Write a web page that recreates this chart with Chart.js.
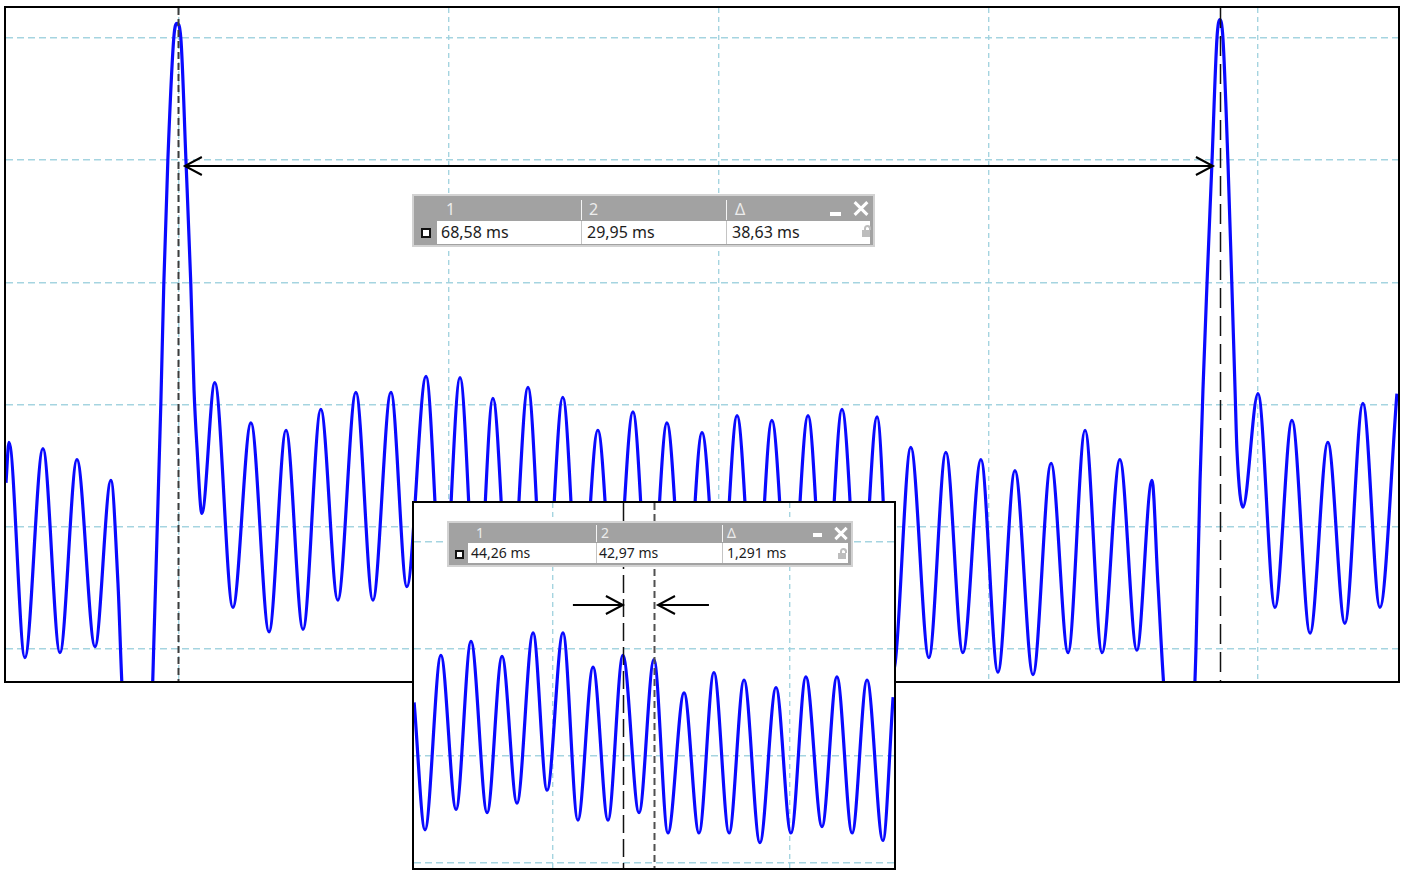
<!DOCTYPE html>
<html>
<head>
<meta charset="utf-8">
<script src="https://cdn.jsdelivr.net/npm/chart.js@4"></script>
<style>
body { margin:0; background:#fff; width:1406px; height:871px; position:relative; overflow:hidden; font-family:"Noto Sans", "Open Sans", sans-serif; }
.frame { position:absolute; border:2px solid #000; background:#fff; }
.frame canvas { display:block; }
.box { position:absolute; background:#a2a2a2; border:2px solid #d2d2d2; box-sizing:border-box; }
.box div { position:absolute; }
.hd { color:#ececec; white-space:nowrap; }
.row { background:#fff; }
.val { color:#1c1c1c; white-space:nowrap; }
.sepW { background:#f4f4f4; width:1px; }
.sepG { background:#c4c4c4; width:1px; }
.chk { background:#fff; border:2px solid #111; box-sizing:border-box; }
.min { background:#fff; }
.xb span { position:absolute; background:#fff; left:50%; top:50%; }
.lockBody { background:#bdbdbd; }
.lockArc { border:2px solid #bdbdbd; border-bottom:none; border-radius:4px 4px 0 0; box-sizing:border-box; }
</style>
</head>
<body>

<div class="frame" style="left:4px; top:6px; width:1392px; height:673px;">
  <canvas id="mainChart" width="1392" height="673"></canvas>
</div>

<div class="box" id="mainBox" style="left:412px; top:194px; width:463px; height:53px;"></div>

<div class="frame" style="left:412px; top:501px; width:480px; height:365px;">
  <canvas id="zoomChart" width="480" height="365"></canvas>
</div>

<div class="box" id="zoomBox" style="left:447px; top:521px; width:406px; height:46px;"></div>

<script>
// main capture: time in ms, level in grid divisions
var mainTimeMs = [23.59, 23.70, 24.29, 24.96, 25.59, 26.22, 26.89, 27.48, 27.74, 27.92,
  28.44, 29.00, 29.07, 29.18, 29.33, 29.44, 29.59, 29.81, 29.93, 30.07,
  30.26, 30.44, 30.56, 30.67, 30.85, 31.33, 32.00, 32.67, 33.34, 33.97,
  34.60, 35.26, 35.89, 36.56, 37.19, 37.86, 38.45, 39.16, 39.79, 40.42,
  41.05, 41.64, 42.27, 42.94, 43.57, 44.23, 44.87, 45.53, 46.16, 46.83,
  47.46, 48.09, 48.76, 49.39, 50.05, 50.69, 51.35, 51.98, 52.65, 53.32,
  53.95, 54.58, 55.24, 55.88, 56.47, 57.13, 57.80, 58.43, 59.06, 59.73,
  60.36, 60.99, 61.66, 62.33, 62.96, 63.59, 64.22, 64.88, 65.51, 66.07,
  66.29, 66.55, 67.11, 67.63, 67.70, 67.85, 67.96, 68.11, 68.29, 68.48,
  68.59, 68.70, 68.89, 69.03, 69.15, 69.22, 69.44, 70.00, 70.63, 71.26,
  71.93, 72.59, 73.22, 73.89, 74.52, 75.15];
var mainLevel = [1.36, 1.69, -0.07, 1.64, -0.03, 1.55, 0.02, 1.38, 0.54, -0.42,
  -0.91, -0.42, 0.05, 0.87, 2.01, 2.99, 4.00, 5.00, 5.12, 5.00,
  4.00, 2.99, 2.12, 1.65, 1.11, 2.18, 0.34, 1.85, 0.14, 1.79,
  0.16, 1.96, 0.40, 2.10, 0.40, 2.10, 0.51, 2.23, 0.32, 2.22,
  0.24, 2.05, 0.28, 2.14, 0.24, 2.06, 0.20, 1.79, 0.28, 1.94,
  0.24, 1.85, 0.20, 1.77, 0.24, 1.91, 0.20, 1.87, 0.20, 1.91,
  0.24, 1.96, 0.20, 1.90, -0.19, 1.65, -0.07, 1.61, -0.03, 1.55,
  -0.19, 1.46, -0.21, 1.52, -0.03, 1.79, -0.03, 1.55, -0.01, 1.38,
  0.54, -0.42, -0.91, -0.42, -0.01, 1.36, 2.12, 2.99, 3.96, 5.00,
  5.15, 5.00, 3.96, 2.99, 2.12, 1.63, 1.16, 2.09, 0.34, 1.87,
  0.13, 1.69, 0.21, 2.01, 0.34, 2.09];

// zoomed capture
var zoomTimeMs = [34.14, 34.60, 35.27, 35.91, 36.54, 37.22, 37.85, 38.48, 39.16, 39.75,
  40.42, 41.05, 41.69, 42.32, 42.95, 43.63, 44.26, 44.85, 45.53, 46.16,
  46.79, 47.43, 48.06, 48.73, 49.41, 50.04, 50.67, 51.35, 51.98, 52.62,
  53.25, 53.92, 54.35];
var zoomLevel = [1.50, 0.31, 1.94, 0.50, 2.07, 0.47, 1.93, 0.56, 2.15, 0.68,
  2.15, 0.40, 1.83, 0.40, 1.94, 0.47, 1.90, 0.28, 1.59, 0.28,
  1.78, 0.28, 1.71, 0.19, 1.64, 0.28, 1.74, 0.34, 1.74, 0.28,
  1.71, 0.21, 1.55];

var mainXTicks = [30, 40, 50, 60, 70];
var mainYTicks = [0, 1, 2, 3, 4, 5];
var zoomXTicks = [40, 50];
var zoomYTicks = [0, 1, 2, 3];

// cursors (ms) and readouts
var mainCursors = [68.58, 29.95];
var mainReadout = ['68,58 ms', '29,95 ms', '38,63 ms'];
var zoomCursors = [44.26, 42.97];
var zoomReadout = ['44,26 ms', '42,97 ms', '1,291 ms'];
var headLabels = ['1', '2', '\u0394'];

var overlay = {
  id: 'overlay',
  afterDatasetsDraw: function (chart, args, opts) {
    var ctx = chart.ctx, area = chart.chartArea;
    var x = chart.scales.x, y = chart.scales.y;
    ctx.save();
    (opts.cursors || []).forEach(function (c) {
      var px = Math.round(x.getPixelForValue(c.at)) + 0.5;
      ctx.beginPath();
      ctx.setLineDash(c.dash);
      ctx.strokeStyle = c.color;
      ctx.lineWidth = c.width;
      ctx.moveTo(px, area.top);
      ctx.lineTo(px, area.bottom);
      ctx.stroke();
    });
    ctx.setLineDash([]);
    ctx.strokeStyle = '#000';
    ctx.lineWidth = 2;
    (opts.arrows || []).forEach(function (a) {
      var x1 = x.getPixelForValue(a.from), x2 = x.getPixelForValue(a.to);
      var py = Math.round(y.getPixelForValue(a.y));
      ctx.beginPath();
      ctx.moveTo(x1, py);
      ctx.lineTo(x2, py);
      var d = x2 > x1 ? 1 : -1;
      ctx.moveTo(x2 - d * 17, py - 9);
      ctx.lineTo(x2, py);
      ctx.lineTo(x2 - d * 17, py + 9);
      if (a.both) {
        ctx.moveTo(x1 + d * 17, py - 9);
        ctx.lineTo(x1, py);
        ctx.lineTo(x1 + d * 17, py + 9);
      }
      ctx.stroke();
    });
    ctx.restore();
  }
};

function axis(min, max, ticks, dash) {
  return {
    type: 'linear', min: min, max: max,
    afterBuildTicks: function (s) { s.ticks = ticks.map(function (v) { return { value: v }; }); },
    ticks: { display: false },
    grid: { color: 'rgba(160,210,222,0.95)', lineWidth: 1.4, drawTicks: false },
    border: { display: false, dash: dash }
  };
}

function scope(id, times, levels, xr, yr, xt, yt, plugOpts) {
  var pts = times.map(function (t, i) { return { x: t, y: levels[i] }; });
  return new Chart(document.getElementById(id), {
    type: 'line',
    data: { datasets: [{
      data: pts,
      borderColor: '#0a0aff',
      borderWidth: 3.2,
      pointRadius: 0,
      cubicInterpolationMode: 'monotone',
      borderJoinStyle: 'round'
    }] },
    options: {
      responsive: false,
      animation: false,
      devicePixelRatio: 1,
      layout: { padding: 0 },
      plugins: { legend: { display: false }, tooltip: { enabled: false }, overlay: plugOpts },
      scales: { x: axis(xr[0], xr[1], xt, [5, 4]), y: axis(yr[0], yr[1], yt, [7, 4]) }
    },
    plugins: [overlay]
  });
}

scope('mainChart', mainTimeMs, mainLevel, [23.59, 75.19], [-0.262, 5.245], mainXTicks, mainYTicks, {
  cursors: [
    { at: mainCursors[0], color: '#111', dash: [20, 8], width: 1.5 },
    { at: mainCursors[1], color: '#3c3c3c', dash: [7, 4], width: 2 }
  ],
  arrows: [{ from: 30.22, to: 68.33, y: 3.95, both: true }]
});

scope('zoomChart', zoomTimeMs, zoomLevel, [34.135, 54.388], [-0.047, 3.364], zoomXTicks, zoomYTicks, {
  cursors: [
    { at: zoomCursors[1], color: '#111', dash: [18, 6], width: 1.5 },
    { at: zoomCursors[0], color: '#505050', dash: [7, 4], width: 2 }
  ],
  arrows: [
    { from: 40.84, to: 42.95, y: 2.41 },
    { from: 46.58, to: 44.43, y: 2.41 }
  ]
});

// readout boxes
function el(parent, cls, css, text) {
  var d = document.createElement('div');
  d.className = cls;
  d.style.cssText = css;
  if (text) d.textContent = text;
  parent.appendChild(d);
  return d;
}

function readoutBox(id, g, values) {
  var b = document.getElementById(id);
  headLabels.forEach(function (t, i) {
    el(b, 'hd', 'left:' + g.hx[i] + 'px; top:' + g.hy + 'px; font-size:' + g.fs + 'px; line-height:1;', t);
  });
  g.sep.forEach(function (s) {
    el(b, 'sepW', 'left:' + s + 'px; top:' + g.sepTop + 'px; height:' + g.sepH + 'px;');
  });
  var row = el(b, 'row', 'left:' + g.row[0] + 'px; top:' + g.row[1] + 'px; width:' + g.row[2] + 'px; height:' + g.row[3] + 'px;');
  g.sep.forEach(function (s) {
    el(row, 'sepG', 'left:' + (s - g.row[0]) + 'px; top:0; height:' + g.row[3] + 'px;');
  });
  values.forEach(function (t, i) {
    el(row, 'val', 'left:' + g.vx[i] + 'px; top:0; font-size:' + g.fs + 'px; line-height:' + g.row[3] + 'px;', t);
  });
  el(b, 'chk', 'left:' + g.chk[0] + 'px; top:' + g.chk[1] + 'px; width:' + g.chk[2] + 'px; height:' + g.chk[2] + 'px;');
  el(b, 'min', 'left:' + g.min[0] + 'px; top:' + g.min[1] + 'px; width:' + g.min[2] + 'px; height:' + g.min[3] + 'px;');
  var xb = el(b, 'xb', 'left:' + g.x[0] + 'px; top:' + g.x[1] + 'px; width:' + g.x[2] + 'px; height:' + g.x[2] + 'px;');
  [45, -45].forEach(function (r) {
    var s = document.createElement('span');
    var len = Math.round(g.x[2] * 1.3);
    s.style.cssText = 'width:' + len + 'px; height:' + g.x[3] + 'px; margin-left:' + (-len / 2) + 'px; margin-top:' + (-g.x[3] / 2) + 'px; transform:rotate(' + r + 'deg);';
    xb.appendChild(s);
  });
  el(row, 'lockArc', 'left:' + (g.lock[0] - g.row[0] + 2) + 'px; top:' + (g.lock[1] - g.row[1]) + 'px; width:' + (g.lock[2] - 1) + 'px; height:' + Math.round(g.lock[3] * 0.45) + 'px;');
  el(row, 'lockBody', 'left:' + (g.lock[0] - g.row[0]) + 'px; top:' + (g.lock[1] - g.row[1] + Math.round(g.lock[3] * 0.45)) + 'px; width:' + g.lock[2] + 'px; height:' + Math.round(g.lock[3] * 0.55) + 'px;');
}

readoutBox('mainBox', {
  fs: 16, hx: [32, 175, 321], hy: 5, sep: [167, 312], sepTop: 4, sepH: 20,
  row: [23, 25, 433, 23], vx: [4, 150, 295],
  chk: [7, 32, 10], min: [416, 16, 11, 4], x: [440, 5, 14, 3],
  lock: [448, 29, 8, 12]
}, mainReadout);

readoutBox('zoomBox', {
  fs: 14, hx: [27, 152, 278], hy: 3, sep: [147, 273], sepTop: 2, sepH: 17,
  row: [19, 20, 380, 20], vx: [3, 131, 259],
  chk: [6, 27, 9], min: [364, 10, 9, 4], x: [386, 4, 12, 3],
  lock: [389, 25, 8, 11]
}, zoomReadout);
</script>
</body>
</html>
